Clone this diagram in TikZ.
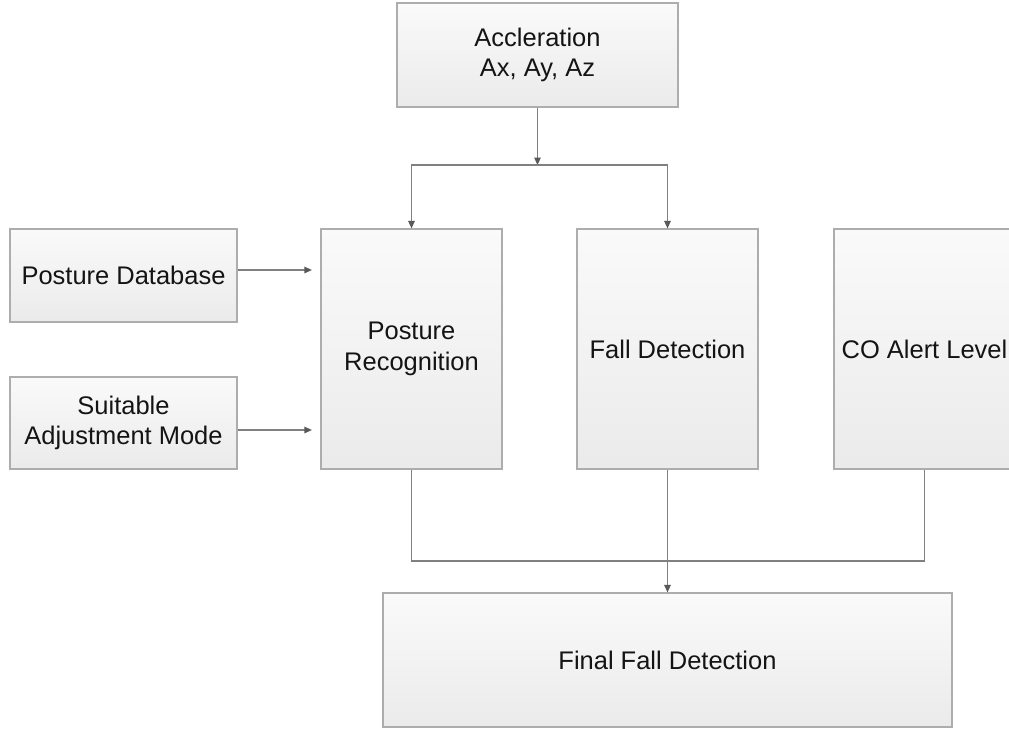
\documentclass[tikz,border=0pt]{standalone}
\usepackage{fontspec}
\setmainfont{Liberation Sans}
\usetikzlibrary{arrows.meta,shadows}

\tikzset{box/.style={main, draw=black!32, line width=0.7pt, top color=black!2, bottom color=black!8, drop shadow={shadow xshift=0.6pt, shadow yshift=-0.6pt, fill=black!25, opacity=0.6}}}
\tikzset{wire/.style={draw=black!50, line width=0.7pt}}
\tikzset{arr/.style={wire, -{Triangle[length=1.5mm, width=1.3mm, color=black!65]}}}

\begin{document}
\begin{tikzpicture}[x=0.02cm, y=-0.02cm, main/.style={rectangle, align=center, inner sep=0pt, text=black!92, font=\fontsize{14.5}{17.5}\selectfont}]
    \useasboundingbox (0,0) rectangle (1009,731);

    \node[box, minimum width=5.62cm, minimum height=2.08cm] (acc) at (537.5,55) {Accleration\\Ax, Ay, Az};

    \node[box, minimum width=4.54cm, minimum height=1.86cm] (pd) at (123.5,275.5) {Posture Database};
    \node[box, minimum width=4.54cm, minimum height=1.84cm] (sam) at (123.5,423) {Suitable\\Adjustment Mode};

    \node[box, minimum width=3.62cm, minimum height=4.8cm] (pr) at (411.5,349) {Posture\\Recognition};
    \node[box, minimum width=3.62cm, minimum height=4.8cm] (fd) at (667.5,349) {Fall Detection};
    \node[box, minimum width=3.62cm, minimum height=4.8cm] (co) at (924.5,349) {CO Alert Level};

    \node[box, minimum width=11.38cm, minimum height=2.68cm] (final) at (667.5,660) {Final Fall Detection};

    \coordinate (top) at (537.5,165);
    \coordinate (bot) at (667.5,561);

    \draw[arr] (acc) -- (top);
    \draw[arr] (top) -| (pr.north);
    \draw[arr] (top) -| (fd.north);
    \draw[arr, shorten >=0.17cm] ([yshift=0.11cm]pd.east) -- ([yshift=0.11cm]pd.east -| pr.west);
    \draw[arr, shorten >=0.17cm] ([yshift=-0.14cm]sam.east) -- ([yshift=-0.14cm]sam.east -| pr.west);
    \draw[wire] (pr.south) |- (bot) -| (co.south);
    \draw[arr] (fd) -- (final);
\end{tikzpicture}
\end{document}
